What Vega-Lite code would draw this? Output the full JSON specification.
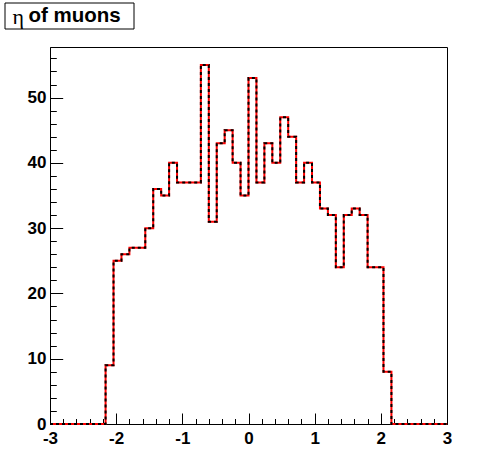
{
  "$schema": "https://vega.github.io/schema/vega-lite/v6.json",
  "padding": {"left": 4, "top": 2, "right": 0, "bottom": 0},
  "spacing": 16,
  "config": {
    "font": "Liberation Sans",
    "view": {"stroke": "black", "strokeWidth": 1},
    "axis": {
      "grid": false,
      "domainColor": "black",
      "tickColor": "black",
      "labelColor": "black",
      "labelFont": "Liberation Sans",
      "labelFontWeight": "bold",
      "labelFontSize": 17,
      "title": null
    }
  },
  "vconcat": [
    {
      "width": 129,
      "height": 26,
      "view": {"stroke": null},
      "data": {"values": [{"sym": "η", "rest": "of muons"}]},
      "layer": [
        {"mark": {"type": "rect", "fill": null, "stroke": "black", "strokeWidth": 1, "xOffset": -45, "x2Offset": -45},
         "encoding": {"x": {"value": 0}, "x2": {"value": "width"}, "y": {"value": 0}, "y2": {"value": "height"}}},
        {"mark": {"type": "text", "font": "Liberation Serif", "fontSize": 22, "color": "black", "baseline": "middle", "align": "left", "dx": -102, "dy": 1}, "encoding": {"text": {"field": "sym"}}},
        {"mark": {"type": "text", "font": "Liberation Sans", "fontWeight": "bold", "fontSize": 20.5, "color": "black", "baseline": "middle", "align": "left", "dx": -86}, "encoding": {"text": {"field": "rest"}}}
      ]
    },
    {
      "width": 397,
      "height": 377,
      "data": {"values": [
        {"eta": -3, "n": 0}, {"eta": -2.88, "n": 0}, {"eta": -2.76, "n": 0}, {"eta": -2.64, "n": 0},
        {"eta": -2.52, "n": 0}, {"eta": -2.4, "n": 0}, {"eta": -2.28, "n": 0}, {"eta": -2.16, "n": 9},
        {"eta": -2.04, "n": 25}, {"eta": -1.92, "n": 26}, {"eta": -1.8, "n": 27}, {"eta": -1.68, "n": 27},
        {"eta": -1.56, "n": 30}, {"eta": -1.44, "n": 36}, {"eta": -1.32, "n": 35}, {"eta": -1.2, "n": 40},
        {"eta": -1.08, "n": 37}, {"eta": -0.96, "n": 37}, {"eta": -0.84, "n": 37}, {"eta": -0.72, "n": 55},
        {"eta": -0.6, "n": 31}, {"eta": -0.48, "n": 43}, {"eta": -0.36, "n": 45}, {"eta": -0.24, "n": 40},
        {"eta": -0.12, "n": 35}, {"eta": 0, "n": 53}, {"eta": 0.12, "n": 37}, {"eta": 0.24, "n": 43},
        {"eta": 0.36, "n": 40}, {"eta": 0.48, "n": 47}, {"eta": 0.6, "n": 44}, {"eta": 0.72, "n": 37},
        {"eta": 0.84, "n": 40}, {"eta": 0.96, "n": 37}, {"eta": 1.08, "n": 33}, {"eta": 1.2, "n": 32},
        {"eta": 1.32, "n": 24}, {"eta": 1.44, "n": 32}, {"eta": 1.56, "n": 33}, {"eta": 1.68, "n": 32},
        {"eta": 1.8, "n": 24}, {"eta": 1.92, "n": 24}, {"eta": 2.04, "n": 8}, {"eta": 2.16, "n": 0},
        {"eta": 2.28, "n": 0}, {"eta": 2.4, "n": 0}, {"eta": 2.52, "n": 0}, {"eta": 2.64, "n": 0},
        {"eta": 2.76, "n": 0}, {"eta": 2.88, "n": 0}, {"eta": 3, "n": 0}
      ]},
      "encoding": {
        "x": {
          "field": "eta", "type": "quantitative",
          "scale": {"domain": [-3, 3], "nice": false, "zero": false},
          "axis": {
            "values": [-3, -2.8, -2.6, -2.4, -2.2, -2, -1.8, -1.6, -1.4, -1.2, -1, -0.8, -0.6, -0.4, -0.2, 0, 0.2, 0.4, 0.6, 0.8, 1, 1.2, 1.4, 1.6, 1.8, 2, 2.2, 2.4, 2.6, 2.8, 3],
            "tickSize": {"condition": {"test": "abs(datum.value - round(datum.value)) < 0.001", "value": -11}, "value": -5.5},
            "labelExpr": "abs(datum.value - round(datum.value)) < 0.001 ? '' + round(datum.value) : ''",
            "labelPadding": 17,
            "labelFlush": false,
            "labelOverlap": false
          }
        },
        "y": {
          "field": "n", "type": "quantitative",
          "scale": {"domain": [0, 57.75], "nice": false},
          "axis": {
            "values": [0, 2, 4, 6, 8, 10, 12, 14, 16, 18, 20, 22, 24, 26, 28, 30, 32, 34, 36, 38, 40, 42, 44, 46, 48, 50, 52, 54, 56],
            "tickSize": {"condition": {"test": "datum.value % 10 === 0", "value": -12.7}, "value": -6.3},
            "labelExpr": "datum.value % 10 === 0 ? datum.label : ''",
            "labelPadding": 16.7,
            "labelOverlap": false,
            "labelFlush": false,
            "minExtent": 45
          }
        }
      },
      "layer": [
        {"mark": {"type": "line", "interpolate": "step-after", "color": "#ff0000", "strokeWidth": 2}},
        {"mark": {"type": "line", "interpolate": "step-after", "color": "black", "strokeWidth": 2, "strokeDash": [3, 3]}}
      ]
    }
  ]
}
